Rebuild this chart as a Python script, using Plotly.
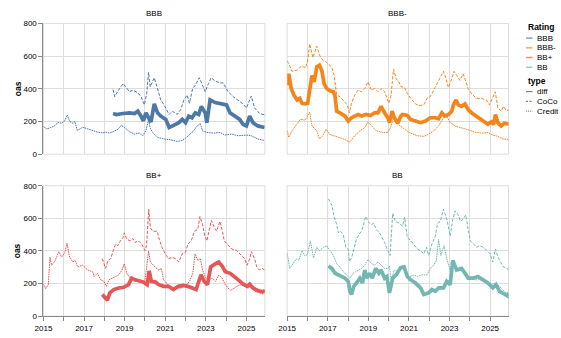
import pandas as pd
import plotly.graph_objects as go
from plotly.subplots import make_subplots

W, H = 561, 338

ratings = ["BBB", "BBB-", "BB+", "BB"]
rating_colors = ["#4c78a8", "#f58518", "#e45756", "#72b7b2"]
types = ["diff", "CoCo", "Credit"]
year_ticks = list(range(2015, 2026))
year_labels = ["2015", "", "2017", "", "2019", "", "2021", "", "2023", "", "2025"]
oas_ticks = [0, 200, 400, 600, 800]

# ---------------- BBB ----------------
bbb_credit_t = [2015.00, 2015.16, 2015.32, 2015.49, 2015.65, 2015.73, 2015.89, 2016.05, 2016.17, 2016.30,
                2016.46, 2016.55, 2016.67, 2016.83, 2016.94, 2017.18, 2017.43, 2017.67, 2017.91, 2018.08,
                2018.24, 2018.43, 2018.68, 2018.84, 2019.00, 2019.24, 2019.49, 2019.73, 2019.89, 2020.05,
                2020.18, 2020.26, 2020.38, 2020.62, 2020.94, 2021.27, 2021.59, 2021.84, 2022.00, 2022.24,
                2022.40, 2022.57, 2022.73, 2022.84, 2023.05, 2023.38, 2023.70, 2023.94, 2024.27, 2024.59,
                2025.00, 2025.24, 2025.56, 2025.89]
bbb_credit_v = [169, 155, 161, 169, 185, 195, 189, 204, 240, 200,
                189, 200, 145, 155, 165, 155, 145, 135, 131, 135,
                129, 137, 153, 177, 163, 137, 123, 129, 113, 143,
                212, 160, 133, 103, 93, 88, 78, 84, 98, 123,
                143, 173, 187, 143, 133, 129, 133, 117, 123, 113,
                117, 113, 93, 84]
bbb_coco_t = [2018.43, 2018.51, 2018.68, 2018.92, 2019.08, 2019.24, 2019.41, 2019.65, 2019.81, 2019.97,
              2020.09, 2020.18, 2020.26, 2020.46, 2020.62, 2020.78, 2020.94, 2021.19, 2021.35, 2021.59,
              2021.76, 2021.92, 2022.08, 2022.19, 2022.35, 2022.48, 2022.68, 2022.81, 2022.97, 2023.13,
              2023.26, 2023.46, 2023.70, 2023.86, 2024.10, 2024.35, 2024.59, 2024.83, 2025.00, 2025.11,
              2025.24, 2025.40, 2025.65, 2025.89]
bbb_coco_v = [396, 352, 388, 432, 408, 382, 392, 376, 352, 302,
              372, 501, 412, 468, 402, 332, 302, 243, 263, 243,
              273, 332, 362, 312, 402, 422, 468, 432, 382, 432,
              468, 448, 436, 436, 382, 352, 332, 308, 283, 322,
              356, 283, 249, 241]
bbb_diff_t = [2018.43, 2018.59, 2018.92, 2019.24, 2019.49, 2019.65, 2019.81, 2019.92, 2020.05, 2020.18,
              2020.30, 2020.46, 2020.62, 2020.78, 2021.03, 2021.19, 2021.35, 2021.51, 2021.67, 2021.84,
              2022.00, 2022.16, 2022.32, 2022.48, 2022.65, 2022.78, 2022.97, 2023.05, 2023.21, 2023.46,
              2023.78, 2024.02, 2024.19, 2024.43, 2024.67, 2024.83, 2025.00, 2025.16, 2025.32, 2025.56,
              2025.89]
bbb_diff_v = [249, 243, 249, 253, 249, 263, 233, 203, 253, 223,
              197, 308, 253, 233, 213, 163, 173, 183, 193, 213,
              193, 233, 223, 253, 243, 293, 253, 193, 332, 316,
              308, 302, 253, 233, 213, 183, 173, 233, 193, 173,
              163]

# ---------------- BBB- ----------------
bbbm_coco_t = [2015.00, 2015.08, 2015.24, 2015.49, 2015.73, 2015.89, 2016.01, 2016.11, 2016.27, 2016.46,
               2016.59, 2016.76, 2016.95, 2017.20, 2017.31, 2017.44, 2017.60, 2017.76, 2017.96, 2018.06,
               2018.17, 2018.33, 2018.50, 2018.66, 2018.82, 2018.98, 2019.15, 2019.31, 2019.47, 2019.63,
               2019.80, 2020.01, 2020.12, 2020.24, 2020.37, 2020.50, 2020.62, 2020.76, 2020.92, 2021.08,
               2021.32, 2021.49, 2021.73, 2021.89, 2022.05, 2022.22, 2022.38, 2022.54, 2022.70, 2022.83,
               2022.94, 2023.11, 2023.22, 2023.35, 2023.51, 2023.67, 2023.80, 2023.92, 2024.08, 2024.32,
               2024.57, 2024.81, 2024.97, 2025.13, 2025.25, 2025.38, 2025.54, 2025.65, 2025.78, 2025.92]
bbbm_coco_v = [571, 555, 507, 515, 541, 527, 571, 675, 591, 661,
               607, 575, 561, 531, 482, 362, 352, 332, 302, 253,
               312, 362, 392, 382, 402, 442, 392, 402, 382, 402,
               382, 312, 362, 521, 462, 442, 412, 412, 372, 342,
               308, 297, 302, 342, 352, 392, 432, 472, 507, 462,
               408, 462, 507, 482, 452, 492, 442, 402, 372, 342,
               342, 332, 302, 352, 382, 283, 263, 293, 269, 269]
bbbm_credit_t = [2015.00, 2015.08, 2015.24, 2015.49, 2015.65, 2015.89, 2016.01, 2016.11, 2016.22, 2016.46,
                 2016.59, 2016.76, 2016.92, 2017.08, 2017.28, 2017.52, 2017.76, 2018.09, 2018.33, 2018.58,
                 2018.82, 2018.98, 2019.15, 2019.39, 2019.72, 2019.96, 2020.12, 2020.24, 2020.45, 2020.68,
                 2021.00, 2021.41, 2021.73, 2021.97, 2022.22, 2022.46, 2022.70, 2022.86, 2023.03, 2023.27,
                 2023.59, 2023.92, 2024.32, 2024.65, 2024.89, 2025.13, 2025.38, 2025.62, 2025.91]
bbbm_credit_v = [143, 103, 143, 183, 213, 209, 233, 257, 173, 143,
                 94, 113, 153, 123, 113, 103, 94, 74, 113, 143,
                 163, 197, 173, 143, 133, 133, 173, 223, 185, 163,
                 133, 113, 109, 123, 143, 173, 223, 233, 193, 173,
                 163, 149, 133, 129, 133, 117, 109, 94, 90]
bbbm_diff_t = [2015.00, 2015.08, 2015.20, 2015.33, 2015.49, 2015.62, 2015.73, 2015.89, 2016.01, 2016.14,
               2016.22, 2016.33, 2016.46, 2016.59, 2016.71, 2016.82, 2016.95, 2017.11, 2017.28, 2017.36,
               2017.44, 2017.60, 2017.85, 2018.01, 2018.17, 2018.33, 2018.50, 2018.66, 2018.90, 2019.10,
               2019.31, 2019.47, 2019.63, 2019.80, 2019.96, 2020.04, 2020.17, 2020.28, 2020.45, 2020.60,
               2020.68, 2020.92, 2021.08, 2021.32, 2021.57, 2021.81, 2022.05, 2022.30, 2022.46, 2022.62,
               2022.78, 2022.94, 2023.11, 2023.19, 2023.32, 2023.43, 2023.59, 2023.76, 2023.92, 2024.08,
               2024.32, 2024.57, 2024.73, 2024.89, 2025.05, 2025.17, 2025.26, 2025.38, 2025.54, 2025.70,
               2025.92]
bbbm_diff_v = [422, 492, 402, 362, 332, 342, 312, 308, 312, 402,
               482, 442, 535, 545, 511, 432, 402, 388, 382, 352,
               263, 253, 233, 203, 223, 233, 243, 233, 243, 237,
               253, 253, 293, 253, 223, 193, 263, 223, 189, 233,
               243, 237, 213, 203, 193, 203, 223, 223, 217, 253,
               233, 243, 263, 302, 332, 302, 293, 308, 273, 253,
               233, 213, 197, 183, 197, 183, 243, 193, 173, 189,
               183]

# ---------------- BB+ ----------------
bbp_credit_t = [2015.00, 2015.11, 2015.24, 2015.32, 2015.40, 2015.56, 2015.76, 2015.89, 2016.05, 2016.16,
                2016.29, 2016.45, 2016.56, 2016.69, 2016.94, 2017.18, 2017.42, 2017.50, 2017.66, 2017.82,
                2017.98, 2018.10, 2018.23, 2018.39, 2018.55, 2018.71, 2018.87, 2018.98, 2019.11, 2019.27,
                2019.52, 2019.76, 2020.00, 2020.11, 2020.18, 2020.27, 2020.36, 2020.49, 2020.68, 2020.81,
                2020.92, 2021.13, 2021.32, 2021.56, 2021.80, 2022.04, 2022.20, 2022.36, 2022.47, 2022.60,
                2022.73, 2022.84, 2023.00, 2023.16, 2023.32, 2023.48, 2023.64, 2023.80, 2023.96, 2024.20,
                2024.44, 2024.68, 2024.92, 2025.08, 2025.24, 2025.40, 2025.64, 2025.88]
bbp_credit_v = [197, 169, 193, 362, 312, 336, 396, 362, 388, 448,
                362, 332, 342, 302, 312, 283, 273, 243, 263, 223,
                213, 183, 223, 233, 243, 253, 283, 322, 263, 233,
                213, 223, 213, 312, 400, 330, 322, 302, 283, 293,
                223, 193, 173, 173, 173, 193, 213, 263, 382, 342,
                352, 283, 233, 223, 233, 213, 253, 233, 193, 157,
                173, 193, 183, 173, 183, 153, 143, 133]
bbp_coco_t = [2017.90, 2018.06, 2018.18, 2018.31, 2018.44, 2018.55, 2018.66, 2018.79, 2018.92, 2018.98,
              2019.11, 2019.27, 2019.40, 2019.52, 2019.68, 2019.84, 2020.00, 2020.08, 2020.19, 2020.27,
              2020.40, 2020.60, 2020.71, 2020.84, 2021.00, 2021.16, 2021.35, 2021.51, 2021.67, 2021.83,
              2021.99, 2022.12, 2022.28, 2022.44, 2022.60, 2022.71, 2022.84, 2022.95, 2023.05, 2023.16,
              2023.27, 2023.40, 2023.53, 2023.69, 2023.80, 2023.91, 2024.07, 2024.28, 2024.52, 2024.68,
              2024.92, 2025.03, 2025.16, 2025.24, 2025.40, 2025.51, 2025.64, 2025.80, 2025.92]
bbp_coco_v = [352, 293, 342, 352, 402, 442, 432, 462, 482, 511,
              472, 462, 476, 452, 462, 442, 402, 432, 655, 541,
              521, 521, 472, 422, 382, 352, 362, 352, 332, 382,
              392, 442, 462, 521, 531, 611, 561, 492, 462, 531,
              587, 551, 521, 581, 531, 462, 442, 412, 402, 382,
              352, 312, 352, 396, 352, 302, 283, 293, 277]
bbp_diff_t = [2017.90, 2018.06, 2018.15, 2018.27, 2018.47, 2018.71, 2018.95, 2019.19, 2019.35, 2019.52,
              2019.76, 2019.92, 2020.11, 2020.21, 2020.32, 2020.52, 2020.68, 2020.92, 2021.16, 2021.40,
              2021.64, 2021.88, 2022.12, 2022.36, 2022.52, 2022.76, 2022.92, 2023.08, 2023.24, 2023.48,
              2023.64, 2023.80, 2023.96, 2024.20, 2024.44, 2024.60, 2024.84, 2025.03, 2025.16, 2025.32,
              2025.56, 2025.80, 2025.92]
bbp_diff_v = [133, 113, 98, 143, 163, 173, 177, 193, 233, 223,
              213, 209, 193, 277, 213, 209, 193, 183, 183, 163,
              183, 189, 183, 173, 163, 253, 213, 193, 302, 322,
              332, 308, 273, 263, 243, 223, 197, 183, 197, 173,
              157, 149, 157]

# ---------------- BB ----------------
bb_credit_t = [2015.00, 2015.13, 2015.29, 2015.46, 2015.57, 2015.73, 2015.89, 2016.01, 2016.14, 2016.30,
               2016.46, 2016.59, 2016.79, 2016.95, 2017.11, 2017.28, 2017.44, 2017.60, 2017.76, 2017.93,
               2018.09, 2018.25, 2018.41, 2018.66, 2018.82, 2018.98, 2019.15, 2019.31, 2019.47, 2019.63,
               2019.80, 2019.96, 2020.04, 2020.12, 2020.28, 2020.45, 2020.59, 2020.76, 2020.92, 2021.05,
               2021.24, 2021.41, 2021.65, 2021.89, 2022.05, 2022.22, 2022.35, 2022.46, 2022.57, 2022.73,
               2022.86, 2023.03, 2023.16, 2023.27, 2023.43, 2023.67, 2023.84, 2024.00, 2024.24, 2024.48,
               2024.73, 2024.97, 2025.13, 2025.29, 2025.54, 2025.78, 2025.92]
bb_credit_v = [388, 293, 322, 352, 342, 402, 368, 382, 462, 356,
               422, 402, 422, 432, 402, 372, 322, 302, 273, 253,
               233, 263, 273, 293, 312, 348, 322, 312, 332, 312,
               293, 293, 308, 223, 283, 273, 283, 302, 253, 243,
               253, 243, 253, 253, 293, 312, 342, 470, 372, 432,
               352, 283, 332, 302, 283, 293, 263, 233, 223, 223,
               213, 203, 197, 203, 173, 143, 143]
bb_coco_t = [2017.03, 2017.20, 2017.31, 2017.44, 2017.52, 2017.63, 2017.76, 2017.89, 2018.01, 2018.06,
             2018.17, 2018.28, 2018.41, 2018.54, 2018.66, 2018.74, 2018.87, 2018.98, 2019.15, 2019.26,
             2019.39, 2019.55, 2019.68, 2019.80, 2019.96, 2020.07, 2020.20, 2020.33, 2020.53, 2020.68,
             2020.79, 2020.92, 2021.05, 2021.24, 2021.41, 2021.57, 2021.73, 2021.86, 2021.97, 2022.13,
             2022.30, 2022.41, 2022.54, 2022.70, 2022.83, 2022.94, 2023.03, 2023.16, 2023.27, 2023.43,
             2023.54, 2023.67, 2023.80, 2023.92, 2024.03, 2024.19, 2024.32, 2024.48, 2024.68, 2024.84,
             2025.00, 2025.13, 2025.26, 2025.38, 2025.54, 2025.65, 2025.81, 2025.92]
bb_coco_v = [720, 681, 611, 561, 511, 521, 501, 422, 412, 336,
             356, 412, 472, 501, 521, 551, 611, 581, 561, 571,
             531, 511, 482, 452, 402, 372, 631, 581, 571, 551,
             607, 482, 468, 442, 412, 402, 382, 422, 372, 442,
             492, 571, 581, 655, 611, 551, 492, 591, 647, 621,
             581, 595, 621, 531, 462, 442, 422, 432, 422, 402,
             382, 332, 412, 362, 322, 302, 293, 283]
bb_diff_t = [2017.03, 2017.20, 2017.36, 2017.52, 2017.68, 2017.85, 2018.01, 2018.09, 2018.17, 2018.28,
             2018.41, 2018.58, 2018.71, 2018.82, 2018.93, 2019.07, 2019.20, 2019.36, 2019.52, 2019.63,
             2019.80, 2019.91, 2020.04, 2020.20, 2020.37, 2020.53, 2020.59, 2020.76, 2020.92, 2021.08,
             2021.32, 2021.57, 2021.73, 2021.97, 2022.13, 2022.30, 2022.46, 2022.70, 2022.86, 2023.03,
             2023.16, 2023.35, 2023.59, 2023.76, 2023.92, 2024.16, 2024.40, 2024.65, 2024.89, 2025.13,
             2025.29, 2025.46, 2025.70, 2025.86, 2025.92]
bb_diff_v = [308, 293, 263, 253, 243, 233, 213, 153, 133, 183,
             203, 233, 203, 283, 233, 263, 233, 293, 263, 283,
             233, 243, 143, 233, 253, 283, 297, 302, 243, 223,
             203, 173, 133, 143, 163, 153, 173, 173, 213, 193,
             342, 283, 293, 263, 233, 233, 243, 223, 203, 173,
             193, 153, 137, 123, 143]

series = {
    "BBB": {"Credit": (bbb_credit_t, bbb_credit_v), "CoCo": (bbb_coco_t, bbb_coco_v), "diff": (bbb_diff_t, bbb_diff_v)},
    "BBB-": {"Credit": (bbbm_credit_t, bbbm_credit_v), "CoCo": (bbbm_coco_t, bbbm_coco_v), "diff": (bbbm_diff_t, bbbm_diff_v)},
    "BB+": {"Credit": (bbp_credit_t, bbp_credit_v), "CoCo": (bbp_coco_t, bbp_coco_v), "diff": (bbp_diff_t, bbp_diff_v)},
    "BB": {"Credit": (bb_credit_t, bb_credit_v), "CoCo": (bb_coco_t, bb_coco_v), "diff": (bb_diff_t, bb_diff_v)},
}


def to_dates(years):
    out = []
    for y in years:
        base = int(y)
        out.append(pd.Timestamp(base, 1, 1) + pd.Timedelta(days=(y - base) * 365.25))
    return out


type_style = {
    "Credit": dict(width=1.0, dash="1.6px,0.8px"),
    "CoCo": dict(width=1.0, dash="3.2px,1.6px"),
    "diff": dict(width=3.7, dash="solid"),
}

FONT = "Liberation Sans, Arial, Helvetica, sans-serif"

fig = make_subplots(rows=2, cols=2, horizontal_spacing=0.04, vertical_spacing=0.1)

# panel positions in pixels (left, right, top, bottom)
panels = [(35, 260, 20, 154.3), (282.7, 507.7, 20, 154.3),
          (35, 260, 186.7, 320.7), (282.7, 507.7, 186.7, 320.7)]

for i, r in enumerate(ratings):
    row, col = i // 2 + 1, i % 2 + 1
    for t in ["Credit", "CoCo", "diff"]:
        tt, vv = series[r][t]
        fig.add_trace(go.Scatter(
            x=to_dates(tt), y=vv, mode="lines",
            line=dict(color=rating_colors[i], **type_style[t]),
            showlegend=False, hoverinfo="skip"), row=row, col=col)

x_range = ["2015-01-01", "2025-11-28"]
tick_dates = [f"{y}-01-01" for y in year_ticks]

shapes = []
annotations = []
for i, (l, rgt, top, bot) in enumerate(panels):
    ax = "" if i == 0 else str(i + 1)
    xdom = [l / W, rgt / W]
    ydom = [1 - bot / H, 1 - top / H]
    bottom_row = i >= 2
    left_col = i % 2 == 0
    fig.layout["xaxis" + ax].update(
        domain=xdom, type="date", range=x_range,
        tickmode="array", tickvals=tick_dates, ticktext=year_labels,
        showgrid=True, gridcolor="#dddddd", gridwidth=1, zeroline=False,
        showline=bottom_row, linecolor="#888888", linewidth=1,
        ticks="outside" if bottom_row else "", ticklen=4, tickcolor="#888888", tickwidth=1,
        showticklabels=bottom_row, tickfont=dict(size=8, color="#000", family=FONT),
        fixedrange=True)
    fig.layout["yaxis" + ax].update(
        domain=ydom, range=[0, 800], tickmode="array", tickvals=oas_ticks,
        showgrid=True, gridcolor="#dddddd", gridwidth=1, zeroline=False,
        showline=left_col, linecolor="#888888", linewidth=1,
        ticks="outside" if left_col else "", ticklen=4, tickcolor="#888888", tickwidth=1,
        showticklabels=left_col, tickfont=dict(size=8, color="#000", family=FONT),
        fixedrange=True)
    shapes.append(dict(type="rect", xref="paper", yref="paper",
                       x0=xdom[0], x1=xdom[1], y0=ydom[0], y1=ydom[1],
                       line=dict(color="#dddddd", width=1), layer="below"))
    # facet header
    annotations.append(dict(text=ratings[i], xref="paper", yref="paper",
                            x=(l + rgt) / 2 / W, y=1 - (top - 10.5) / H,
                            xanchor="center", yanchor="middle", showarrow=False,
                            font=dict(size=8, color="#000", family=FONT)))
    if left_col:
        annotations.append(dict(text="<b>oas</b>", xref="paper", yref="paper",
                                x=8.5 / W, y=1 - (top + bot) / 2 / H, textangle=-90,
                                xanchor="center", yanchor="middle", showarrow=False,
                                font=dict(size=8.5, color="#000", family=FONT)))

# manual legend
lx0, lx1, ltx = 525.5, 532, 534.5


def legend_title(text, y):
    annotations.append(dict(text=f"<b>{text}</b>", xref="paper", yref="paper",
                            x=525 / W, y=1 - y / H, xanchor="left", yanchor="middle",
                            showarrow=False, font=dict(size=8.5, color="#000", family=FONT)))


def legend_item(text, y, color, dash, opacity=1.0, width=1.5):
    shapes.append(dict(type="line", xref="paper", yref="paper",
                       x0=lx0 / W, x1=lx1 / W, y0=1 - y / H, y1=1 - y / H,
                       line=dict(color=color, width=width, dash=dash), opacity=opacity))
    annotations.append(dict(text=text, xref="paper", yref="paper",
                            x=ltx / W, y=1 - y / H, xanchor="left", yanchor="middle",
                            showarrow=False, font=dict(size=8, color="#000", family=FONT)))


legend_title("Rating", 24)
for k, r in enumerate(ratings):
    legend_item(r, 35 + 10 * k, rating_colors[k], "solid", opacity=0.7)
legend_title("type", 79.5)
type_dash = {"diff": "solid", "CoCo": "2px,1.5px", "Credit": "1px,1px"}
for k, t in enumerate(types):
    legend_item(t, 90 + 10 * k, "#666666", type_dash[t], opacity=0.8, width=1.2)

fig.update_layout(
    width=W, height=H, margin=dict(l=0, r=0, t=0, b=0),
    paper_bgcolor="white", plot_bgcolor="white",
    showlegend=False, shapes=shapes, annotations=annotations,
    font=dict(family=FONT, size=8, color="#000"),
)

fig.write_html("out.html")
